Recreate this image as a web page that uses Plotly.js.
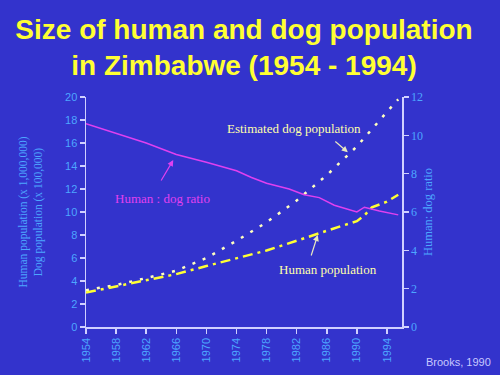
<!DOCTYPE html>
<html>
<head>
<meta charset="utf-8">
<script src="https://cdn.plot.ly/plotly-3.0.1.min.js"></script>
<style>html,body{margin:0;padding:0;background:#3333cc;}</style>
</head>
<body>
<div id="chart" style="width:500px;height:375px;"></div>
<script>
// Estimated dog population (x 100,000)
var dogYears = [1954, 1958, 1962, 1966, 1970, 1974, 1978, 1982, 1986, 1990, 1994, 1995.5];
var dogValues = [3.2, 3.65, 4.25, 4.9, 6.0, 7.5, 9.1, 11.0, 13.2, 15.7, 18.7, 19.8];

// Human population (x 1,000,000)
var humanYears = [1954, 1958, 1962, 1966, 1970, 1974, 1978, 1982, 1986, 1988, 1990, 1991, 1992, 1994, 1995.5];
var humanValues = [3.0, 3.55, 4.1, 4.6, 5.3, 6.0, 6.65, 7.5, 8.4, 8.8, 9.2, 9.7, 10.4, 10.9, 11.5];

// Human : dog ratio
var ratioYears = [1954, 1958, 1962, 1966, 1970, 1974, 1976, 1978, 1981, 1983, 1985, 1987, 1990, 1991, 1993, 1995.5];
var ratioValues = [10.6, 10.1, 9.6, 9.0, 8.6, 8.15, 7.8, 7.5, 7.2, 6.9, 6.75, 6.35, 6.0, 6.25, 6.05, 5.85];

var xTicks = [1954, 1958, 1962, 1966, 1970, 1974, 1978, 1982, 1986, 1990, 1994];
var leftTicks = [0, 2, 4, 6, 8, 10, 12, 14, 16, 18, 20];
var rightTicks = [0, 2, 4, 6, 8, 10, 12];

var tickBlue = '#4da6ff';
var axisCol = '#d0d0ff';
var serif = 'Liberation Serif, Times New Roman, serif';
var sans = 'Liberation Sans, Arial, sans-serif';

var traces = [
  {x: dogYears, y: dogValues, mode: 'lines', name: 'Estimated dog population',
   line: {color: '#ffffc0', width: 2.5, dash: '3px,8px'}, yaxis: 'y'},
  {x: humanYears, y: humanValues, mode: 'lines', name: 'Human population',
   line: {color: '#ffff33', width: 2.5, dash: '10px,5px,3px,5px'}, yaxis: 'y'},
  {x: ratioYears, y: ratioValues, mode: 'lines', name: 'Human : dog ratio',
   line: {color: '#e040f0', width: 1.5}, yaxis: 'y2'}
];

var layout = {
  width: 500, height: 375,
  paper_bgcolor: '#3333cc', plot_bgcolor: '#3333cc',
  showlegend: false,
  margin: {l: 86, r: 98, t: 97, b: 48},
  title: {
    text: '<b>Size of human and dog population<br>in Zimbabwe (1954 - 1994)</b>',
    font: {family: sans, size: 28, color: '#ffff33'},
    x: 0.5, xanchor: 'center', xref: 'paper', yref: 'container', y: 0.897, yanchor: 'middle'
  },
  xaxis: {
    range: [1954, 1996], tickvals: xTicks, ticktext: xTicks.map(String),
    tickangle: -90, showgrid: false, zeroline: false,
    showline: true, linecolor: axisCol, linewidth: 1.5,
    ticks: 'outside', ticklen: 5, tickcolor: axisCol, tickwidth: 1.5,
    tickfont: {family: sans, size: 11, color: tickBlue}
  },
  yaxis: {
    range: [0, 20], tickvals: leftTicks, showgrid: false, zeroline: false,
    showline: true, linecolor: axisCol, linewidth: 1.5,
    ticks: 'outside', ticklen: 5, tickcolor: axisCol, tickwidth: 1.5,
    tickfont: {family: sans, size: 11, color: tickBlue},
    title: {text: 'Human population (x 1,000,000)<br>Dog population (x 100,000)',
            font: {family: serif, size: 11.5, color: tickBlue},
            standoff: 20}
  },
  yaxis2: {
    range: [0, 12], tickvals: rightTicks, overlaying: 'y', side: 'right',
    showgrid: false, zeroline: false,
    showline: true, linecolor: axisCol, linewidth: 1.5,
    ticks: 'outside', ticklen: 5, tickcolor: axisCol, tickwidth: 1.5,
    tickfont: {family: serif, size: 12, color: tickBlue},
    title: {text: 'Human: dog ratio',
            font: {family: serif, size: 12.5, color: tickBlue},
            standoff: 1}
  },
  annotations: [
    {x: 1981.6, y: 17.3, xref: 'x', yref: 'y', text: 'Estimated dog population', showarrow: false,
     font: {family: serif, size: 13, color: '#ffffaa'}},
    {x: 1988.8, y: 15.2, xref: 'x', yref: 'y', text: '', showarrow: true,
     ax: -14, ay: -12, arrowcolor: '#e8e8c0', arrowhead: 2, arrowsize: 1, arrowwidth: 1.2},
    {x: 1964.2, y: 11.2, xref: 'x', yref: 'y', text: 'Human : dog ratio', showarrow: false,
     font: {family: serif, size: 13, color: '#e040f0'}},
    {x: 1965.6, y: 8.71, xref: 'x', yref: 'y2', text: '', showarrow: true,
     ax: -13, ay: 22, arrowcolor: '#e040f0', arrowhead: 2, arrowsize: 1, arrowwidth: 1.2},
    {x: 1986.2, y: 4.96, xref: 'x', yref: 'y', text: 'Human population', showarrow: false,
     font: {family: serif, size: 13, color: '#ffffaa'}},
    {x: 1984.8, y: 8.0, xref: 'x', yref: 'y', text: '', showarrow: true,
     ax: -7, ay: 22, arrowcolor: '#e8e8c0', arrowhead: 2, arrowsize: 1, arrowwidth: 1.2},
    {x: 1, y: 0, xref: 'paper', yref: 'paper', xanchor: 'right', yanchor: 'middle',
     xshift: 91, yshift: -35, text: 'Brooks, 1990', showarrow: false,
     font: {family: sans, size: 11, color: '#c8c8ff'}}
  ]
};

Plotly.newPlot('chart', traces, layout, {displayModeBar: false, staticPlot: true});
</script>
</body>
</html>
